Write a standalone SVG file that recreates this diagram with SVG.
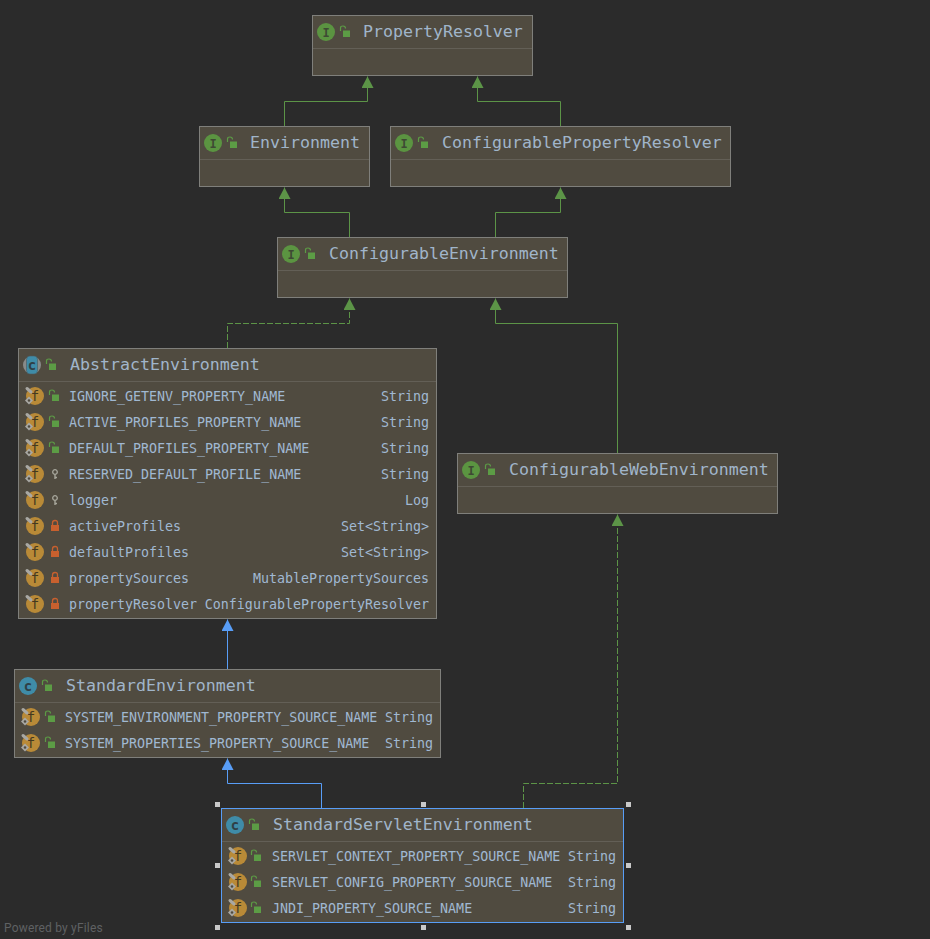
<svg xmlns="http://www.w3.org/2000/svg" width="930" height="939" viewBox="0 0 930 939">
<style>
.box{fill:#504b40;stroke:#7f7f7b;stroke-width:1}
.sel{fill:#504b40;stroke:#589df6;stroke-width:1}
.div{stroke:#635f56;stroke-width:1}
.t{font-family:"DejaVu Sans Mono","Liberation Mono",monospace;font-size:16.6px;fill:#a0b5ca}
.f{font-family:"DejaVu Sans Mono","Liberation Mono",monospace;font-size:13.3px;fill:#a0b8d2}
.ty{text-anchor:end}
.cg{fill:none;stroke:#5c9447;stroke-width:1}
.cs{fill:none;stroke:#589df6;stroke-width:1}
.d{stroke-dasharray:6 2}
.h{fill:#c9c9c9}
.gl{font-family:"DejaVu Sans Mono",monospace;font-weight:bold;text-anchor:middle}
.gn{font-family:"DejaVu Sans Mono",monospace;font-weight:normal;text-anchor:middle}
</style>
<defs>
<marker id="ag" markerWidth="13" markerHeight="13" refX="11.500" refY="6" orient="auto" markerUnits="userSpaceOnUse"><path d="M0 0L11.500 6L0 12Z" fill="#5c9447"/></marker>
<marker id="ab" markerWidth="13" markerHeight="13" refX="11.500" refY="6" orient="auto" markerUnits="userSpaceOnUse"><path d="M0 0L11.500 6L0 12Z" fill="#589df6"/></marker>
<g id="open"><path d="M-4.500 -1V-4Q-4.500 -6 -2 -6Q0.500 -6 0.500 -3.500" fill="none" stroke="#5c9c45" stroke-width="1.200"/><rect x="-2" y="-1.500" width="7" height="6.500" fill="#5c9c45"/></g>
<g id="lock"><path d="M-2.500 -1V-3Q-2.500 -5.500 0 -5.500Q2.500 -5.500 2.500 -3V-1" fill="none" stroke="#c8602e" stroke-width="1.300"/><rect x="-4" y="-1" width="8" height="6" fill="#c8602e"/></g>
<g id="key"><circle cx="0" cy="-2" r="2.300" fill="none" stroke="#a7a69b" stroke-width="1.300"/><path d="M0 0.500V5M0 3.500H2" fill="none" stroke="#a7a69b" stroke-width="1.400"/></g>
<g id="iI"><circle r="9" fill="#5b9441"/><text class="gl" y="4.500" font-size="12" fill="#3e4a34">I</text></g>
<g id="iC"><circle r="9" fill="#3f8ca8"/><text class="gl" y="4.500" font-size="14" fill="#2f3f46">c</text></g>
<g id="iCa"><circle r="9" fill="#888b89"/><rect x="-5.500" y="-9" width="11" height="18" rx="3.500" fill="#3f8ca8" stroke="#4a5a60" stroke-width="0.600"/><text class="gl" y="4.500" font-size="14" fill="#2f3f46">c</text></g>
<g id="iF"><circle r="9" fill="#b98a37"/><text class="gn" y="4.500" font-size="14" fill="#44391f">f</text><path d="M-8 -7.500L-4 -4" stroke="#a9a8a3" stroke-width="3" stroke-linecap="round"/></g>
<g id="iFs"><use href="#iF"/><path d="M-6 0.500L-2 4.500L-6 8.500L-10 4.500Z" fill="#a9a8a3"/><circle cx="-6" cy="4.500" r="1.300" fill="#504b40"/></g>
</defs>
<rect width="930" height="939" fill="#2b2b2b"/>

<g id="connectors">
<path class="cg" marker-end="url(#ag)" d="M284.500 126V101.500H367.500V76.500"/>
<path class="cg" marker-end="url(#ag)" d="M560.500 126V101.500H477.500V76.500"/>
<path class="cg" marker-end="url(#ag)" d="M349.500 237V212.500H284.500V187.500"/>
<path class="cg" marker-end="url(#ag)" d="M495.500 237V212.500H560.500V187.500"/>
<path class="cg d" marker-end="url(#ag)" d="M227.500 348V323.500H349.500V298.500"/>
<path class="cg" marker-end="url(#ag)" d="M617.500 453V323.500H495.500V298.500"/>
<path class="cg d" marker-end="url(#ag)" d="M523.500 808V783.500H617.500V514.500"/>
<path class="cs" marker-end="url(#ab)" d="M227.500 669V619.500"/>
<path class="cs" marker-end="url(#ab)" d="M321.500 808V783.500H227.500V758.500"/>
</g>

<g id="PropertyResolver">
<rect class="box" x="312.500" y="15.500" width="220" height="60"/><path class="div" d="M313 48.500H532"/>
<use href="#iI" x="326" y="32"/><use href="#open" x="345" y="32"/>
<text class="t" x="363" y="37">PropertyResolver</text>
</g>
<g id="Environment">
<rect class="box" x="199.500" y="126.500" width="170" height="60"/><path class="div" d="M200 159.500H369"/>
<use href="#iI" x="213" y="143"/><use href="#open" x="232" y="143"/>
<text class="t" x="250" y="148">Environment</text>
</g>
<g id="ConfigurablePropertyResolver">
<rect class="box" x="390.500" y="126.500" width="340" height="60"/><path class="div" d="M391 159.500H730"/>
<use href="#iI" x="404" y="143"/><use href="#open" x="423" y="143"/>
<text class="t" x="442" y="148">ConfigurablePropertyResolver</text>
</g>
<g id="ConfigurableEnvironment">
<rect class="box" x="277.500" y="237.500" width="290" height="60"/><path class="div" d="M278 270.500H567"/>
<use href="#iI" x="291" y="254"/><use href="#open" x="310" y="254"/>
<text class="t" x="329" y="259">ConfigurableEnvironment</text>
</g>
<g id="ConfigurableWebEnvironment">
<rect class="box" x="457.500" y="453.500" width="320" height="60"/><path class="div" d="M458 486.500H777"/>
<use href="#iI" x="471" y="470"/><use href="#open" x="490" y="470"/>
<text class="t" x="509" y="475">ConfigurableWebEnvironment</text>
</g>

<g id="AbstractEnvironment">
<rect class="box" x="18.500" y="348.500" width="418" height="270"/><path class="div" d="M19 381.500H436"/>
<use href="#iCa" x="32" y="365"/><use href="#open" x="51" y="365"/>
<text class="t" x="70" y="370">AbstractEnvironment</text>
<use href="#iFs" x="35" y="396"/><use href="#open" x="54" y="396"/>
<text class="f" x="69" y="401">IGNORE_GETENV_PROPERTY_NAME</text><text class="f ty" x="429" y="401">String</text>
<use href="#iFs" x="35" y="422"/><use href="#open" x="54" y="422"/>
<text class="f" x="69" y="427">ACTIVE_PROFILES_PROPERTY_NAME</text><text class="f ty" x="429" y="427">String</text>
<use href="#iFs" x="35" y="448"/><use href="#open" x="54" y="448"/>
<text class="f" x="69" y="453">DEFAULT_PROFILES_PROPERTY_NAME</text><text class="f ty" x="429" y="453">String</text>
<use href="#iFs" x="35" y="474"/><use href="#key" x="55" y="474"/>
<text class="f" x="69" y="479">RESERVED_DEFAULT_PROFILE_NAME</text><text class="f ty" x="429" y="479">String</text>
<use href="#iF" x="35" y="500"/><use href="#key" x="55" y="500"/>
<text class="f" x="69" y="505">logger</text><text class="f ty" x="429" y="505">Log</text>
<use href="#iF" x="35" y="526"/><use href="#lock" x="55" y="526"/>
<text class="f" x="69" y="531">activeProfiles</text><text class="f ty" x="429" y="531">Set&lt;String&gt;</text>
<use href="#iF" x="35" y="552"/><use href="#lock" x="55" y="552"/>
<text class="f" x="69" y="557">defaultProfiles</text><text class="f ty" x="429" y="557">Set&lt;String&gt;</text>
<use href="#iF" x="35" y="578"/><use href="#lock" x="55" y="578"/>
<text class="f" x="69" y="583">propertySources</text><text class="f ty" x="429" y="583">MutablePropertySources</text>
<use href="#iF" x="35" y="604"/><use href="#lock" x="55" y="604"/>
<text class="f" x="69" y="609">propertyResolver</text><text class="f ty" x="429" y="609">ConfigurablePropertyResolver</text>
</g>

<g id="StandardEnvironment">
<rect class="box" x="14.500" y="669.500" width="426" height="88"/><path class="div" d="M15 702.500H440"/>
<use href="#iC" x="28" y="686"/><use href="#open" x="47" y="686"/>
<text class="t" x="66" y="691">StandardEnvironment</text>
<use href="#iFs" x="31" y="717"/><use href="#open" x="50" y="717"/>
<text class="f" x="65" y="722">SYSTEM_ENVIRONMENT_PROPERTY_SOURCE_NAME</text><text class="f ty" x="433" y="722">String</text>
<use href="#iFs" x="31" y="743"/><use href="#open" x="50" y="743"/>
<text class="f" x="65" y="748">SYSTEM_PROPERTIES_PROPERTY_SOURCE_NAME</text><text class="f ty" x="433" y="748">String</text>
</g>

<g id="StandardServletEnvironment">
<rect class="sel" x="221.500" y="808.500" width="402" height="114"/><path class="div" d="M222 841.500H623"/>
<use href="#iC" x="235" y="825"/><use href="#open" x="254" y="825"/>
<text class="t" x="273" y="830">StandardServletEnvironment</text>
<use href="#iFs" x="238" y="856"/><use href="#open" x="256" y="856"/>
<text class="f" x="272" y="861">SERVLET_CONTEXT_PROPERTY_SOURCE_NAME</text><text class="f ty" x="616" y="861">String</text>
<use href="#iFs" x="238" y="882"/><use href="#open" x="256" y="882"/>
<text class="f" x="272" y="887">SERVLET_CONFIG_PROPERTY_SOURCE_NAME</text><text class="f ty" x="616" y="887">String</text>
<use href="#iFs" x="238" y="908"/><use href="#open" x="256" y="908"/>
<text class="f" x="272" y="913">JNDI_PROPERTY_SOURCE_NAME</text><text class="f ty" x="616" y="913">String</text>
<rect class="h" x="215" y="802" width="5" height="5"/><rect class="h" x="421" y="802" width="5" height="5"/><rect class="h" x="626" y="802" width="5" height="5"/>
<rect class="h" x="215" y="863" width="5" height="5"/><rect class="h" x="626" y="863" width="5" height="5"/>
<rect class="h" x="215" y="925" width="5" height="5"/><rect class="h" x="421" y="925" width="5" height="5"/><rect class="h" x="626" y="925" width="5" height="5"/>
</g>
<text x="4" y="932" font-family="Roboto,'Liberation Sans',sans-serif" font-size="12" letter-spacing="0.180" fill="#5f6163">Powered by yFiles</text>
</svg>
